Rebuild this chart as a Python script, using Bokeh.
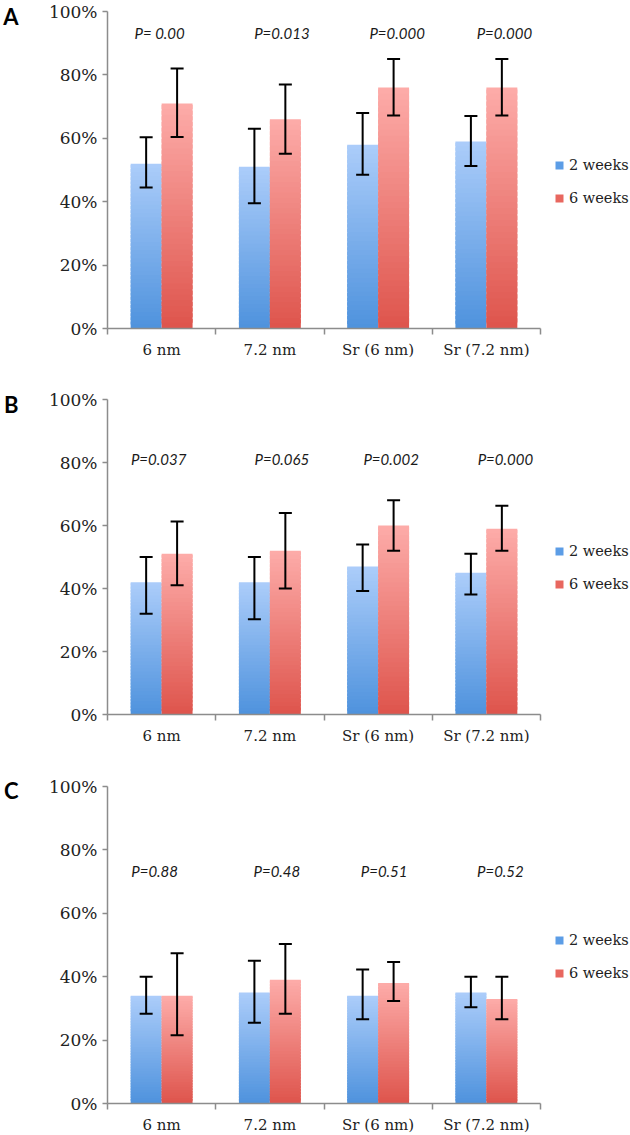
from bokeh.plotting import figure
from bokeh.models import (ColumnDataSource, Range1d, FixedTicker, PrintfTickFormatter,
                          Whisker, TeeHead, Legend, LegendItem, LinearAxis)
from bokeh.layouts import column
from bokeh.embed import file_html
from bokeh.resources import INLINE
from bokeh.core.properties import value

# ---------------- data ----------------
categories = ["6 nm", "7.2 nm", "Sr (6 nm)", "Sr (7.2 nm)"]
series_names = ["2 weeks", "6 weeks"]
y_ticks = [0, 20, 40, 60, 80, 100]

# Panel A
a_2w = [52, 51, 58, 59]
a_2w_low = [44.5, 39.5, 48.5, 51.3]
a_2w_high = [60.3, 63, 68, 67]
a_6w = [71, 66, 76, 76]
a_6w_low = [60.4, 55.1, 67.2, 67.2]
a_6w_high = [82, 77, 85, 85]
a_p = ["P= 0.00", "P=0.013", "P=0.000", "P=0.000"]

# Panel B
b_2w = [42, 42, 47, 45]
b_2w_low = [32, 30.2, 39.2, 38.1]
b_2w_high = [50, 50, 54, 51]
b_6w = [51, 52, 60, 59]
b_6w_low = [41, 40, 52, 52]
b_6w_high = [61.3, 64, 68, 66.3]
b_p = ["P=0.037", "P=0.065", "P=0.002", "P=0.000"]

# Panel C
c_2w = [34, 35, 34, 35]
c_2w_low = [28.3, 25.5, 26.6, 30.4]
c_2w_high = [40, 45, 42.3, 40]
c_6w = [34, 39, 38, 33]
c_6w_low = [21.5, 28.3, 32.3, 26.6]
c_6w_high = [47.4, 50.3, 44.6, 40]
c_p = ["P=0.88", "P=0.48", "P=0.51", "P=0.52"]

# ---------------- style ----------------
BLUE_BOTTOM = (78, 146, 221)
BLUE_TOP = (172, 205, 250)
RED_BOTTOM = (222, 84, 76)
RED_TOP = (253, 172, 169)
BLUE_LEG = "#5c9de6"
RED_LEG = "#e8675f"
AXIS_COL = "#8c8c8c"
TEXT_COL = "#222222"
BAR_W = 0.286
N_SLICES = 40


def mix(c0, c1, f):
    r = [round(a + (b - a) * f) for a, b in zip(c0, c1)]
    return "#%02x%02x%02x" % tuple(r)


def make_panel(letter, v2, lo2, hi2, v6, lo6, hi6, ptexts, cfg):
    p = figure(frame_width=433, frame_height=cfg["fh"],
               x_range=Range1d(0, len(categories)), y_range=Range1d(0, 100),
               output_backend="svg", toolbar_location=None,
               min_border_left=106, min_border_right=91,
               min_border_top=cfg["bt"], min_border_bottom=cfg["bb"])
    p.outline_line_color = None
    p.xgrid.visible = False
    p.ygrid.visible = False
    p.background_fill_color = "white"
    p.border_fill_color = "white"

    centers = [i + 0.5 for i in range(len(categories))]

    # gradient bars made of thin overlapping slices
    L, R, B, T, C = [], [], [], [], []
    for vals, cbot, ctop, side in ((v2, BLUE_BOTTOM, BLUE_TOP, 0), (v6, RED_BOTTOM, RED_TOP, 1)):
        for i, v in enumerate(vals):
            left = centers[i] - BAR_W if side == 0 else centers[i]
            for j in range(N_SLICES):
                L.append(left)
                R.append(left + BAR_W)
                B.append(v * j / N_SLICES)
                T.append(min(v, v * (j + 1.7) / N_SLICES))
                C.append(mix(cbot, ctop, (j + 0.5) / N_SLICES))
    src = ColumnDataSource(dict(left=L, right=R, bottom=B, top=T, color=C))
    p.quad(left="left", right="right", bottom="bottom", top="top", source=src,
           fill_color="color", line_color=None)

    # error bars
    wsrc = ColumnDataSource(dict(
        base=[c - BAR_W / 2 for c in centers] + [c + BAR_W / 2 for c in centers],
        lower=lo2 + lo6, upper=hi2 + hi6))
    w = Whisker(source=wsrc, base="base", lower="lower", upper="upper", dimension="height",
                line_color="black", line_width=2, level="overlay",
                upper_head=TeeHead(size=13, line_color="black", line_width=2),
                lower_head=TeeHead(size=13, line_color="black", line_width=2))
    p.add_layout(w)

    # P values
    psrc = ColumnDataSource(dict(x=centers, y=[cfg["py"]] * len(centers), text=ptexts, xo=cfg["poff"]))
    p.text(x="x", y="y", text="text", x_offset="xo", source=psrc,
           text_font=value("Lato"), text_font_style="italic", text_font_size="15px",
           text_align="center", text_baseline="middle", text_color="#1a1a1a")

    # axes
    p.yaxis.ticker = FixedTicker(ticks=y_ticks)
    p.yaxis.formatter = PrintfTickFormatter(format="%d%%")
    p.yaxis.major_tick_out = 5
    p.yaxis.major_tick_in = 0
    p.yaxis.minor_tick_line_color = None
    p.yaxis.major_label_standoff = 5
    p.yaxis.major_label_text_font_size = "17px"

    p.xaxis.ticker = FixedTicker(ticks=centers, minor_ticks=list(range(len(categories) + 1)))
    p.xaxis.major_label_overrides = {c: cat for c, cat in zip(centers, categories)}
    p.xaxis.major_tick_line_color = None
    p.xaxis.major_tick_out = 0
    p.xaxis.major_tick_in = 0
    p.xaxis.minor_tick_out = 6
    p.xaxis.minor_tick_in = 0
    p.xaxis.minor_tick_line_color = AXIS_COL
    p.xaxis.minor_tick_line_width = 1.5
    p.xaxis.major_label_standoff = 6
    p.xaxis.major_label_text_font_size = "15px"

    for ax in (p.xaxis, p.yaxis):
        ax.axis_line_color = AXIS_COL
        ax.axis_line_width = 1.5
        ax.major_tick_line_width = 1.5
        ax.major_label_text_font = "DejaVu Serif"
        ax.major_label_text_color = TEXT_COL
    p.yaxis.major_tick_line_color = AXIS_COL

    # panel letter (as an outer left axis with a single labelled tick)
    lax = LinearAxis(ticker=FixedTicker(ticks=[cfg["lpos"]]),
                     major_label_overrides={cfg["lpos"]: letter},
                     axis_line_color=None, major_tick_line_color=None, minor_tick_line_color=None,
                     major_label_text_font="Lato", major_label_text_font_style="bold",
                     major_label_text_font_size="22px", major_label_text_color="black",
                     major_label_standoff=21)
    p.add_layout(lax, "left")

    # legend (invisible zero-size markers carry the legend swatches)
    lsrc = ColumnDataSource(dict(x=centers, y2=v2, y6=v6))
    r2 = p.scatter(x="x", y="y2", source=lsrc, marker="square", size=0,
                   fill_color=BLUE_LEG, line_color=None)
    r6 = p.scatter(x="x", y="y6", source=lsrc, marker="square", size=0,
                   fill_color=RED_LEG, line_color=None)
    legend = Legend(items=[LegendItem(label=series_names[0], renderers=[r2]),
                           LegendItem(label=series_names[1], renderers=[r6])],
                    location=(9, 120), glyph_width=20, glyph_height=20, label_height=20,
                    label_standoff=0, spacing=13, padding=0, margin=0,
                    border_line_color=None, background_fill_alpha=0,
                    label_text_font="DejaVu Serif", label_text_font_size="14.5px",
                    label_text_color=TEXT_COL)
    p.add_layout(legend, "right")
    return p


cfg_a = dict(fh=317, bt=11, bb=60, py=93.1, poff=[-2, 12, 19, 18], lpos=100)
cfg_b = dict(fh=315, bt=11, bb=61, py=81, poff=[-3, 12, 13, 19], lpos=98.3)
cfg_c = dict(fh=317, bt=11, bb=32, py=73.5, poff=[-7, 7, 6, 14], lpos=98.6)

pa = make_panel("A", a_2w, a_2w_low, a_2w_high, a_6w, a_6w_low, a_6w_high, a_p, cfg_a)
pb = make_panel("B", b_2w, b_2w_low, b_2w_high, b_6w, b_6w_low, b_6w_high, b_p, cfg_b)
pc = make_panel("C", c_2w, c_2w_low, c_2w_high, c_6w, c_6w_low, c_6w_high, c_p, cfg_c)

layout = column(pa, pb, pc, spacing=0)
open("out.html", "w").write(file_html(layout, INLINE))
